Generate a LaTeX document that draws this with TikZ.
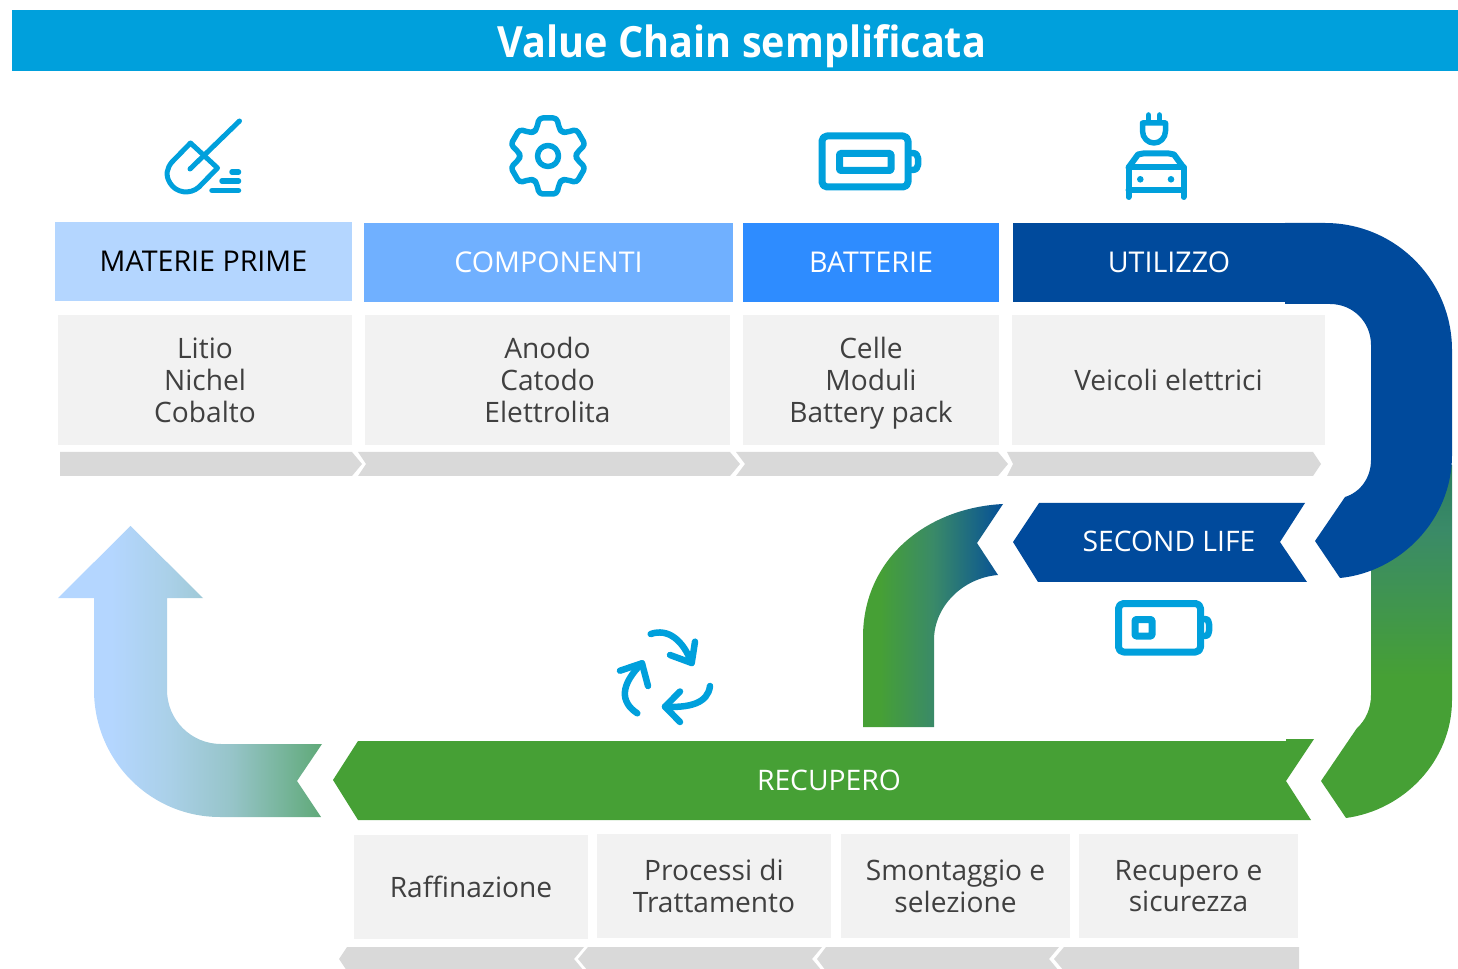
\documentclass[tikz,border=0pt]{standalone}
\usepackage{fontspec}
\setmainfont{Open Sans}
\definecolor{banner}{HTML}{00A0DC}
\definecolor{heada}{HTML}{B4D6FF}
\definecolor{headb}{HTML}{70B0FF}
\definecolor{headc}{HTML}{2E8CFF}
\definecolor{darkblue}{HTML}{004A9C}
\definecolor{recgreen}{HTML}{46A035}
\definecolor{boxgrey}{HTML}{F2F2F2}
\definecolor{stripgrey}{HTML}{D9D9D9}
\definecolor{bodytext}{HTML}{404040}
\definecolor{midteal}{HTML}{3A8A68}
\definecolor{lightmid}{HTML}{AAD0E8}
\definecolor{lighttwo}{HTML}{96C4C8}
\definecolor{lightend}{HTML}{5FA978}
\newcommand{\pxu}{.02cm}
% gradients of the bent arrows (the shape spans 25bp to 75bp)
\pgfdeclarehorizontalshading{bendlight}{100bp}{color(0bp)=(heada); color(35bp)=(heada); color(46bp)=(lightmid); color(58bp)=(lighttwo); color(75bp)=(lightend); color(100bp)=(lightend)}
\pgfdeclarehorizontalshading{bendsecond}{100bp}{color(0bp)=(recgreen); color(31bp)=(recgreen); color(50bp)=(midteal); color(75bp)=(darkblue!92!midteal); color(100bp)=(darkblue)}
\pgfdeclareverticalshading{bendright}{100bp}{color(0bp)=(recgreen); color(45bp)=(recgreen); color(66bp)=(midteal); color(75bp)=(darkblue!40!recgreen); color(100bp)=(darkblue)}
\tikzset{
  headbox/.style={minimum height=79*\pxu, inner sep=0pt, text=white, font=\fontsize{16.3}{18}\selectfont},
  greybox/.style={fill=boxgrey, inner sep=0pt, text=bodytext, align=center, text depth=0pt, font=\fontsize{16}{18.1}\selectfont},
  strip/.style={fill=stripgrey},
  icon/.style={draw=banner, line width=5*\pxu, line cap=round, line join=round},
  iconfat/.style={icon, line width=7*\pxu, rounded corners=5*\pxu}
}
\begin{document}
\begin{tikzpicture}[x=\pxu,y=-\pxu]
    \clip (0,0) rectangle (1458,969);

    % Title band
    \node[fill=banner, minimum width=1446*\pxu, minimum height=61*\pxu, inner sep=0pt] (title) at (735,40.5) {};
    \node[text=white, inner sep=0pt, font=\fontsize{24.5}{28}\selectfont\bfseries] (titletxt) at (742,46.5) {\scalebox{.92}[1]{Value Chain semplificata}};

    % Upper headers
    \node[headbox, fill=heada, text=black, minimum width=297*\pxu] (materie) at (203.5,261.5) {MATERIE PRIME};
    \node[headbox, fill=headb, minimum width=369*\pxu] (comp) at (548.5,262.5) {COMPONENTI};
    \node[headbox, fill=headc, minimum width=256*\pxu] (batt) at (871,262.5) {BATTERIE};

    % The right hand bend, green part first
    \shade[shading=bendright] (1371,465) -- (1452,465) -- (1452,700) .. controls (1452,760) and (1405,810) .. (1346,818) -- (1321,781) -- (1357,728) .. controls (1366,720) and (1371,708) .. (1371,695) -- cycle;
    \fill[darkblue] (1285,223) -- (1325,223) arc (-90:0:127) -- (1452,455) .. controls (1452,520) and (1400,572) .. (1340,578) -- (1315,541) -- (1345,497) .. controls (1361,492) and (1371,477) .. (1371,460) -- (1371,345) .. controls (1371,322) and (1353,304) .. (1330,304) -- (1285,304) -- cycle;
    \node[headbox, fill=darkblue, minimum width=312*\pxu] (util) at (1169,262.5) {UTILIZZO};

    % Upper grey boxes
    \node[greybox, minimum width=294*\pxu, minimum height=130*\pxu] (litio) at (205,380) {Litio\\Nichel\\Cobalto};
    \node[greybox, minimum width=365*\pxu, minimum height=130*\pxu] (anodo) at (547.5,380) {Anodo\\Catodo\\Elettrolita};
    \node[greybox, minimum width=256*\pxu, minimum height=130*\pxu] (celle) at (871,380) {Celle\\Moduli\\Battery pack};
    \node[greybox, minimum width=313*\pxu, minimum height=130*\pxu] (veicoli) at (1168.5,380) {Veicoli elettrici};

    % Chevron strip, upper row
    \fill[strip] (60,452) -- (352,452) -- (362,464) -- (352,476) -- (60,476) -- cycle;
    \fill[strip] (358,452) -- (730,452) -- (740,464) -- (730,476) -- (358,476) -- (366,464) -- cycle;
    \fill[strip] (736,452) -- (998,452) -- (1008,464) -- (998,476) -- (736,476) -- (745,464) -- cycle;
    \fill[strip] (1007,452) -- (1313,452) -- (1321,464) -- (1313,476) -- (1007,476) -- (1013,464) -- cycle;

    % Second life arrow and label
    \shade[shading=bendsecond] (863,727) -- (863,637) .. controls (863,560) and (925,508) .. (1003,504) -- (977,543) -- (998,575) .. controls (962,578) and (934,607) .. (934,640) -- (934,727) -- cycle;
    \fill[darkblue] (1013,542) -- (1039,503) -- (1305,503) -- (1280,542) -- (1307,582) -- (1038,582) -- cycle;
    \node[text=white, inner sep=0pt, font=\fontsize{16.1}{18}\selectfont] (second) at (1169,541.5) {SECOND LIFE};

    % Recupero band
    \fill[recgreen] (333,780) -- (358,741) -- (1286,741) -- (1286,739) -- (1314,739) -- (1286,781) -- (1311,820) -- (358,820) -- cycle;
    \node[text=white, inner sep=0pt, font=\fontsize{16.1}{18}\selectfont] (recupero) at (829,780.5) {RECUPERO};

    % Arrow back to the raw materials
    \shade[shading=bendlight] (94,598) -- (58,598) -- (130.5,526) -- (203,598) -- (167,598) -- (167,690) arc (180:90:54) -- (322,744) -- (297,781) -- (321,817) -- (220,817) .. controls (150,817) and (94,760) .. (94,690) -- cycle;

    % Lower grey boxes
    \node[greybox, minimum width=234*\pxu, minimum height=104*\pxu] (raff) at (471,887) {Raffinazione};
    \node[greybox, minimum width=234*\pxu, minimum height=104*\pxu] (proc) at (714,886) {Processi di\\Trattamento};
    \node[greybox, minimum width=229*\pxu, minimum height=104*\pxu] (smont) at (955.5,886) {Smontaggio e\\selezione};
    \node[greybox, minimum width=219*\pxu, minimum height=104*\pxu] (recsic) at (1188.5,886) {Recupero e\\sicurezza};

    % Chevron strip, lower row
    \fill[strip] (339,959) -- (347,947) -- (584,947) -- (574,959) -- (584,971) -- (347,971) -- cycle;
    \fill[strip] (578,959) -- (588,947) -- (822,947) -- (812,959) -- (822,971) -- (588,971) -- cycle;
    \fill[strip] (817,959) -- (826,947) -- (1059,947) -- (1049,959) -- (1059,971) -- (826,971) -- cycle;
    \fill[strip] (1054,959) -- (1064,947) -- (1299,947) -- (1299,971) -- (1064,971) -- cycle;

    % Shovel icon
    \draw[icon] (239.5,121) -- (190,169);
    \draw[icon] (190.5,143) -- (217.5,168) -- (199,187) .. controls (190,195) and (176,193) .. (170,183) .. controls (165,175) and (167,168) .. (172,162) -- cycle;
    \draw[icon, line width=5.5*\pxu] (232,172) -- (238.5,172);
    \draw[icon, line width=5.5*\pxu] (222,181) -- (238.5,181);
    \draw[icon, line width=5.5*\pxu] (212,190.5) -- (238.5,190.5);

    % Gear icon
    \begin{scope}[shift={(548,156)}]
      \draw[icon, line width=5.5*\pxu, rounded corners=3.5*\pxu] (68:30)
        \foreach \a in {0,60,...,240} {
          -- (\a+77:39) -- (\a+103:39) -- (\a+112:30) -- (\a+120:27.5) -- (\a+128:30)
        } -- (377:39) -- (403:39) -- (412:30) -- (420:27.5) -- cycle;
      \draw[icon, line width=5.5*\pxu] (0,0) circle (10.5);
    \end{scope}

    % Big battery icon
    \draw[iconfat] (822,136) rectangle (908,187);
    \draw[iconfat, rounded corners=1*\pxu] (839.5,153.5) rectangle (891,170.5);
    \draw[icon, line width=6.5*\pxu] (912,153) .. controls (916,153) and (918,155) .. (918,158) -- (918,165) .. controls (918,168) and (916,170) .. (912,170);

    % Plug and car icon
    \draw[icon, line width=5.5*\pxu] (1148.5,115) -- (1148.5,122);
    \draw[icon, line width=5.5*\pxu] (1159.5,115) -- (1159.5,122);
    \draw[icon, line width=5.5*\pxu] (1142.5,123) -- (1165.5,123) -- (1165.5,131) .. controls (1165.5,138) and (1160,143) .. (1154,143) .. controls (1148,143) and (1142.5,138) .. (1142.5,131) -- cycle;
    \begin{scope}[icon, line width=6*\pxu]
      \draw (1128.5,197) -- (1128.5,167.5) -- (1183.5,167.5) -- (1183.5,197);
      \draw (1128.5,167.5) -- (1138,154.5) .. controls (1140,153.5) and (1141,153.5) .. (1143,153.5) -- (1169,153.5) .. controls (1171,153.5) and (1172,153.5) .. (1174,154.5) -- (1183.5,167.5);
      \draw (1128.5,190) -- (1183.5,190);
    \end{scope}
    \fill[banner] (1140.3,179.3) circle (3.3) (1171,179.3) circle (3.3);

    % Small battery icon
    \draw[iconfat] (1118.5,603.5) rectangle (1200.5,652);
    \draw[iconfat, rounded corners=1*\pxu] (1135,619.5) rectangle (1152,636);
    \draw[icon, line width=6.5*\pxu] (1204,619) .. controls (1208,619) and (1209,621) .. (1209,624) -- (1209,631) .. controls (1209,634) and (1208,636) .. (1204,636);

    % Recycling icon
    \begin{scope}[icon, line width=6.5*\pxu]
      \draw (650.7,634) .. controls (668,628) and (683,640) .. (691.7,663);
      \draw (695,641.7) -- (691.7,663) -- (670,655);
      \draw (710,686) .. controls (708,703) and (690,708) .. (665,706.7);
      \draw (680,691.5) -- (665,706.7) -- (680,722);
      \draw (637.3,713.3) .. controls (620,702) and (620,685) .. (642,663.3);
      \draw (620,670.7) -- (642,663.3) -- (648,686);
    \end{scope}
\end{tikzpicture}
\end{document}
